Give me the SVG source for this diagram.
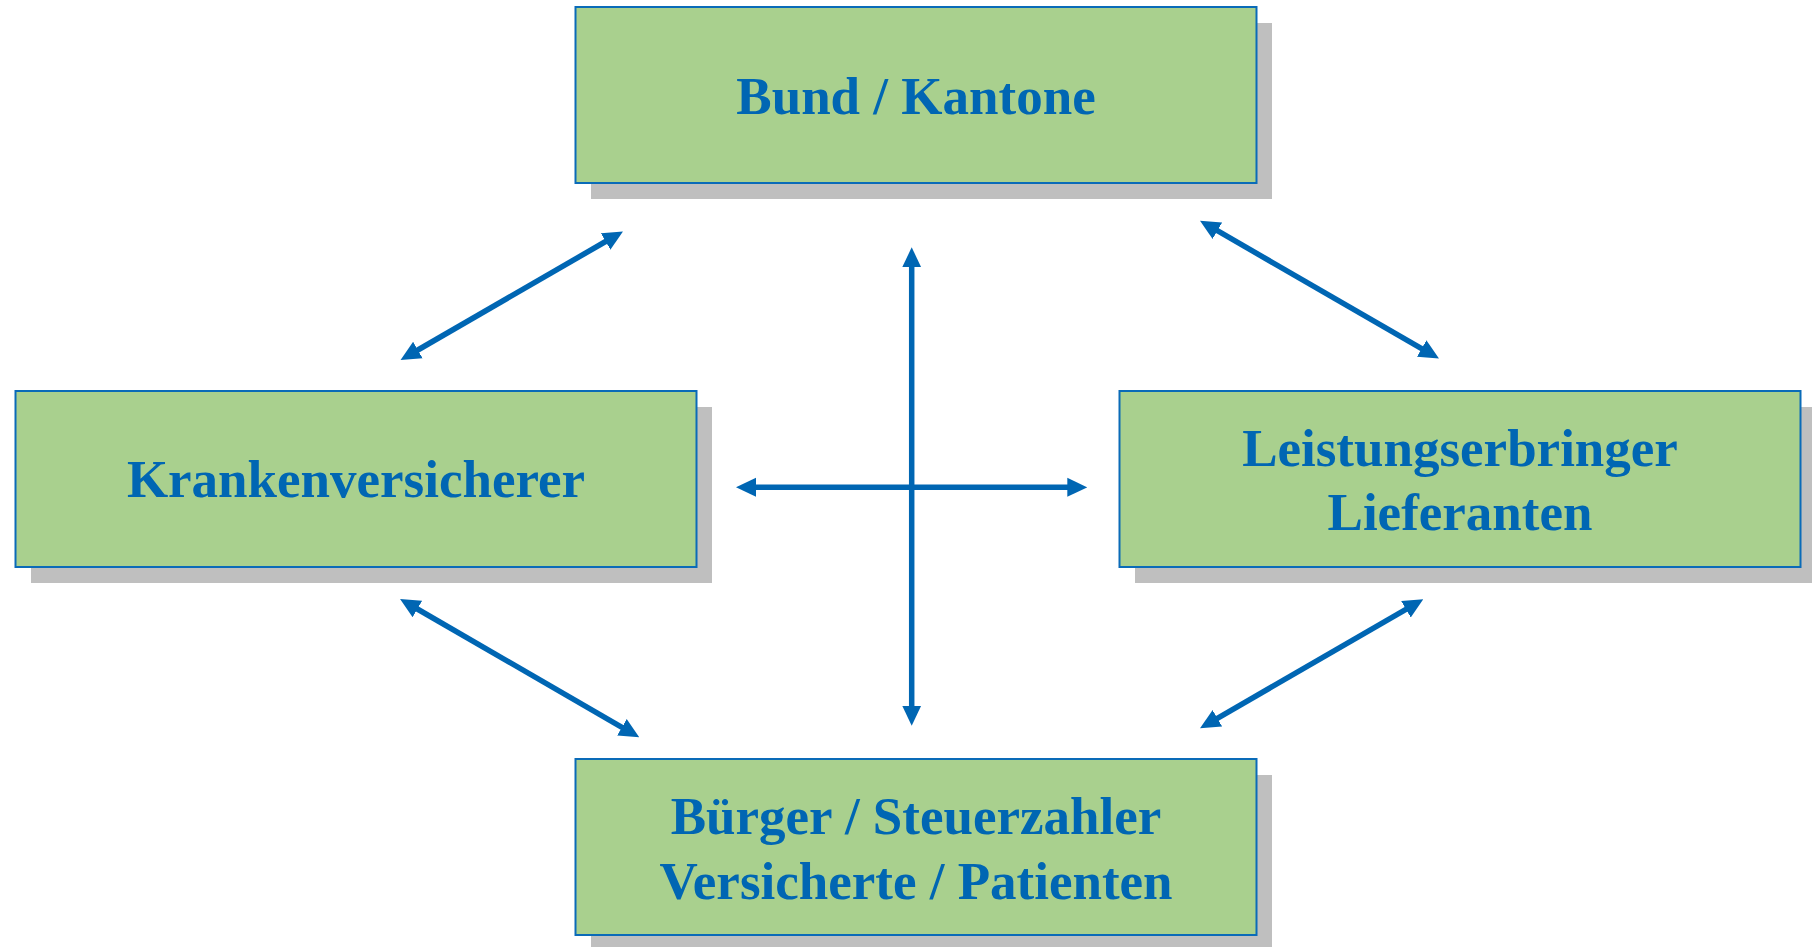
<svg xmlns="http://www.w3.org/2000/svg" width="1812" height="947" viewBox="0 0 1812 947">
<style>
.shadow{fill:#bfbfbf;}
.box{fill:#a9d08e;stroke:#0a6bb8;stroke-width:2;}
.lbl{font-family:"Liberation Serif","Times New Roman",serif;font-weight:bold;font-size:53px;fill:#0066b3;text-anchor:middle;}
.conn{stroke:#0066b3;stroke-width:5.5;fill:none;marker-start:url(#ah);marker-end:url(#ah);}
</style>
<defs>
<marker id="ah" markerUnits="userSpaceOnUse" markerWidth="20" markerHeight="20" refX="10" refY="10" orient="auto-start-reverse" viewBox="0 0 20 20">
<path d="M0,0.5 L20,10 L0,19.5 z" fill="#0066b3"/>
</marker>
</defs>
<rect width="1812" height="947" fill="#ffffff"/>
<g id="node-bund">
<rect class="shadow" x="591" y="23" width="681" height="176"/>
<rect class="box" x="575.5" y="7" width="681" height="176"/>
<text class="lbl" x="916" y="114">Bund / Kantone</text>
</g>
<g id="node-kranken">
<rect class="shadow" x="31" y="407" width="681" height="176"/>
<rect class="box" x="15.5" y="391" width="681" height="176"/>
<text class="lbl" x="356" y="497">Krankenversicherer</text>
</g>
<g id="node-leistung">
<rect class="shadow" x="1135" y="407" width="681" height="176"/>
<rect class="box" x="1119.5" y="391" width="681" height="176"/>
<text class="lbl" x="1460" y="466">Leistungserbringer</text>
<text class="lbl" x="1460" y="530">Lieferanten</text>
</g>
<g id="node-buerger">
<rect class="shadow" x="591" y="775" width="681" height="176"/>
<rect class="box" x="575.5" y="759" width="681" height="176"/>
<text class="lbl" x="916" y="834">Bürger / Steuerzahler</text>
<text class="lbl" x="916" y="899">Versicherte / Patienten</text>
</g>
<g id="connectors">
<line class="conn" x1="409.2" y1="355" x2="614.3" y2="236.5"/>
<line class="conn" x1="1208.7" y1="225.7" x2="1430.3" y2="353.6"/>
<line class="conn" x1="408.7" y1="604" x2="630.6" y2="732.3"/>
<line class="conn" x1="1208.7" y1="723.3" x2="1414.6" y2="604.3"/>
<line class="conn" x1="911.7" y1="257.3" x2="911.7" y2="715.7"/>
<line class="conn" x1="746" y1="487.3" x2="1077.3" y2="487.3"/>
</g>
</svg>
